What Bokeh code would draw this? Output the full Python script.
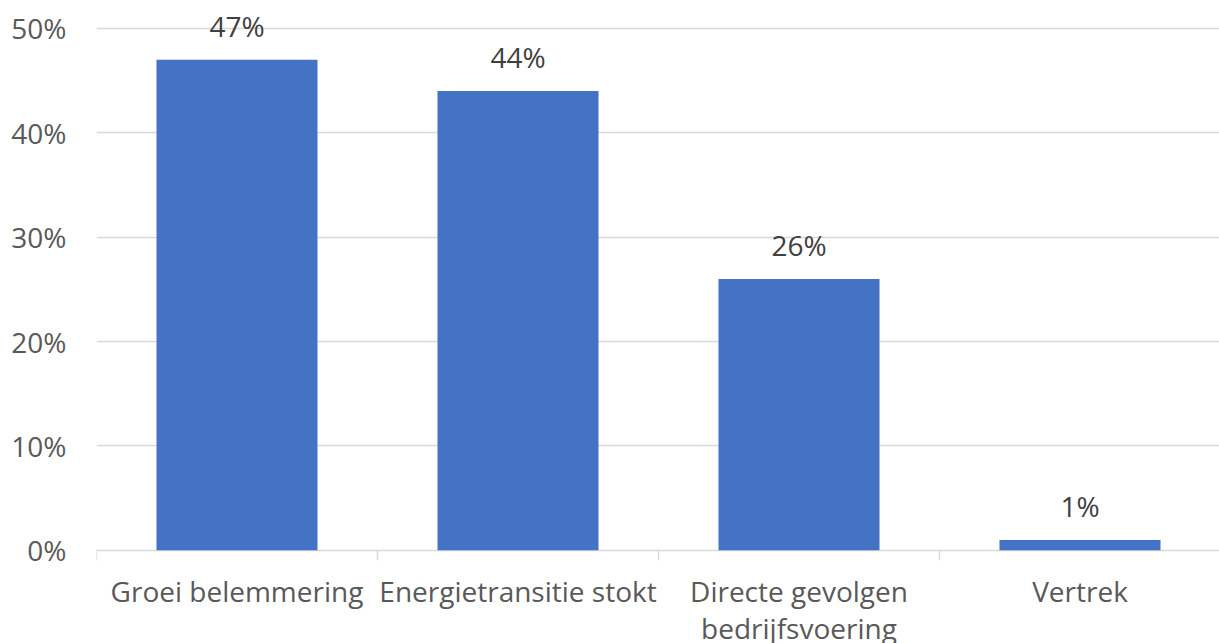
import math
from bokeh.plotting import figure
from bokeh.models import FixedTicker, Range1d, ColumnDataSource
from bokeh.core.properties import value
from bokeh.embed import file_html
from bokeh.resources import INLINE

categories = ["Groei belemmering", "Energietransitie stokt", "Directe gevolgen\nbedrijfsvoering", "Vertrek"]
values = [0.47, 0.44, 0.26, 0.01]
labels = ["47%", "44%", "26%", "1%"]
y_ticks = [0.0, 0.1, 0.2, 0.3, 0.4, 0.5]
y_tick_labels = ["0%", "10%", "20%", "30%", "40%", "50%"]

FONT = "Open Sans"
n = len(categories)
centers = [i + 0.5 for i in range(n)]
bounds = list(range(n + 1))
src = ColumnDataSource(dict(x=centers, top=values, label=labels))
cat_src = ColumnDataSource(dict(x=centers, y=[0] * n, cat=categories))
tick_src = ColumnDataSource(dict(x=bounds, y=[0] * (n + 1)))

W, H = 1219, 643
LEFT, TOP = 96, 8
frame_w = W - LEFT
frame_h = H - TOP
px_per_unit = 1044.0
y_end = 0.519
y_start = y_end - frame_h / px_per_unit

p = figure(width=W, height=H, output_backend="svg", toolbar_location=None,
           x_range=Range1d(0, n * frame_w / 1124), y_range=Range1d(y_start, y_end),
           min_border_left=LEFT, min_border_right=0, min_border_top=TOP, min_border_bottom=0,
           x_axis_location=None)
p.outline_line_color = None
p.background_fill_color = "white"
p.border_fill_color = "white"

# grid (0% line doubles as the category axis line)
p.xgrid.visible = False
p.ygrid.ticker = FixedTicker(ticks=y_ticks)
p.ygrid.grid_line_color = "#D9D9D9"
p.ygrid.grid_line_width = 1.5

# category boundary ticks
p.ray(x="x", y="y", source=tick_src, length=10, length_units="screen", angle=-math.pi / 2,
      line_color="#D9D9D9", line_width=1.5)

p.vbar(x="x", top="top", width=0.573, bottom=0, source=src, color="#4472C4", line_color=None)
p.text(x="x", y="top", text="label", source=src, text_align="center", text_baseline="alphabetic",
       y_offset=-34, text_font=value(FONT), text_font_size="28px", text_color="#404040")

# category labels
p.text(x="x", y="y", text="cat", source=cat_src, text_align="center", text_baseline="top",
       y_offset=22, text_font=value(FONT), text_font_size="28px", text_color="#595959",
       text_line_height=0.97)

# y axis
ya = p.yaxis[0]
ya.ticker = FixedTicker(ticks=y_ticks)
ya.major_label_overrides = {t: l for t, l in zip(y_ticks, y_tick_labels)}
ya.axis_line_color = None
ya.major_tick_line_color = None
ya.minor_tick_line_color = None
ya.major_label_standoff = 24
ya.major_label_text_font = FONT
ya.major_label_text_font_size = "28px"
ya.major_label_text_color = "#595959"

open("out.html", "w").write(file_html(p, INLINE))
